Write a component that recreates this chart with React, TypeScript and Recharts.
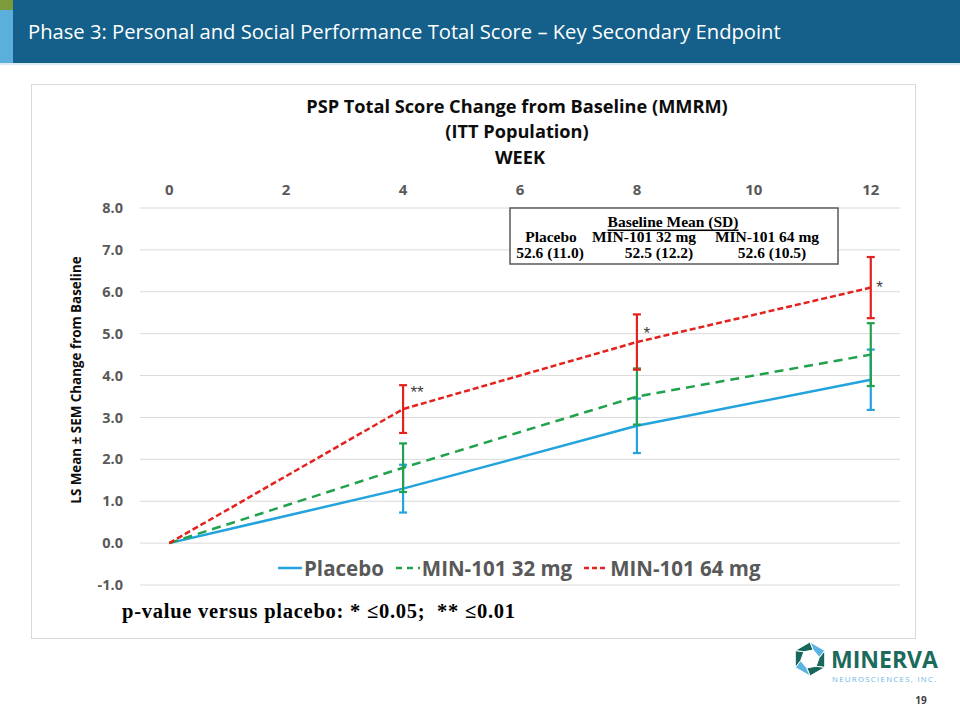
import React from 'react';
import { LineChart, Line, XAxis, YAxis, CartesianGrid, ErrorBar, ReferenceDot } from 'recharts';

// ---- data ----
const weeks = [0, 4, 8, 12];
const placeboMean = [0, 1.3, 2.8, 3.9];
const placeboSem = [0, 0.57, 0.65, 0.72];
const mg32Mean = [0, 1.8, 3.5, 4.5];
const mg32Sem = [0, 0.58, 0.67, 0.75];
const mg64Mean = [0, 3.2, 4.8, 6.1];
const mg64Sem = [0, 0.57, 0.66, 0.73];
const xTicks = [0, 2, 4, 6, 8, 10, 12];
const yTicks = [-1, 0, 1, 2, 3, 4, 5, 6, 7, 8];
const seriesNames = ['Placebo', 'MIN-101 32 mg', 'MIN-101 64 mg'];
const sigWeeks = [4.24, 8.17, 12.15];
const sigLevels = [3.62, 5.02, 6.12];
const sigLabels = ['**', '*', '*'];
const baselineGroups = ['Placebo', 'MIN-101 32 mg', 'MIN-101 64 mg'];
const baselineValues = ['52.6 (11.0)', '52.5 (12.2)', '52.6 (10.5)'];

const COLORS = ['#22A3DC', '#20A14B', '#E3211D'];
const DASHES = [undefined, '9 6', '6 3'];

const data = weeks.map((w, i) => ({
  week: w,
  placebo: placeboMean[i],
  placeboErr: placeboSem[i],
  mg32: mg32Mean[i],
  mg32Err: mg32Sem[i],
  mg64: mg64Mean[i],
  mg64Err: mg64Sem[i],
}));

const keys = ['placebo', 'mg32', 'mg64'];

const tickStyle = { fill: '#595959', fontSize: 14.5, fontWeight: 700, fontFamily: 'Open Sans' };

function LegendSample({ i }: { i: number }) {
  return (
    <svg width={24} height={10} style={{ marginRight: 2 }}>
      <line x1={0} y1={5} x2={24} y2={5} stroke={COLORS[i]} strokeWidth={2.5}
        strokeDasharray={i === 1 ? '6 5' : i === 2 ? '5 3' : undefined} />
    </svg>
  );
}

export default function App() {
  return (
    <div style={{ position: 'absolute', left: 0, top: 0, width: 960, height: 720, background: '#fff', overflow: 'hidden' }}>
      {/* header */}
      <div style={{ position: 'absolute', left: 0, top: 0, width: 960, height: 63, background: '#14608A' }} />
      <div style={{ position: 'absolute', left: 0, top: 0, width: 13, height: 63, background: '#5AB0DA' }} />
      <div style={{ position: 'absolute', left: 0, top: 0, width: 13, height: 10, background: '#7D9B3A' }} />
      <div style={{ position: 'absolute', left: 0, top: 63, width: 960, height: 2, background: '#DCEAF1' }} />
      <div style={{ position: 'absolute', left: 28, top: 17, color: '#fff', fontFamily: 'Open Sans', fontSize: 20.2, whiteSpace: 'nowrap', lineHeight: '28px' }}>
        Phase 3: Personal and Social Performance Total Score – Key Secondary Endpoint
      </div>

      {/* chart box */}
      <div style={{ position: 'absolute', left: 31, top: 84, width: 883, height: 553, border: '1px solid #D9D9D9' }} />

      {/* chart */}
      <div style={{ position: 'absolute', left: 0, top: 0 }}>
        <LineChart width={960} height={720} data={data} margin={{ top: 170, right: 60, bottom: 135, left: 0 }}>
          <CartesianGrid vertical={false} stroke="#D9D9D9" strokeWidth={1} />
          <XAxis dataKey="week" type="number" orientation="top" domain={[-0.5, 12.5]} ticks={xTicks}
            axisLine={false} tickLine={false} height={38} tickMargin={7}
            tick={{ ...tickStyle, fontSize: 15 }} />
          <YAxis type="number" domain={[-1, 8]} ticks={yTicks} width={140} axisLine={false} tickLine={false}
            tickMargin={11} tickFormatter={(v: number) => v.toFixed(1)} tick={tickStyle} />
          {keys.map((k, i) => (
            <Line key={k} dataKey={k} type="linear" stroke={COLORS[i]} strokeWidth={2.5}
              strokeDasharray={DASHES[i]} dot={false} activeDot={false} isAnimationActive={false}>
              <ErrorBar dataKey={k + 'Err'} direction="y" width={4} stroke={COLORS[i]} strokeWidth={2.2} />
            </Line>
          ))}
          {sigWeeks.map((w, i) => (
            <ReferenceDot key={i} x={w} y={sigLevels[i]} r={0} stroke="none" fill="none" ifOverflow="visible"
              label={{ value: sigLabels[i], position: 'center', fill: '#404040', fontSize: 17, fontFamily: 'Liberation Sans' }} />
          ))}
        </LineChart>
      </div>

      {/* overlay texts */}
      <svg width={960} height={720} style={{ position: 'absolute', left: 0, top: 0, pointerEvents: 'none' }}>
        <g fontFamily="Open Sans" fontWeight={700} fill="#0D0D0D" textAnchor="middle">
          <text x={517} y={106} fontSize={18.2} dominantBaseline="central">PSP Total Score Change from Baseline (MMRM)</text>
          <text x={517} y={131} fontSize={18.2} dominantBaseline="central">(ITT Population)</text>
          <text x={520} y={157} fontSize={18.2} dominantBaseline="central">WEEK</text>
        </g>
        <text transform="translate(76,380) rotate(-90)" textAnchor="middle" dominantBaseline="central"
          fontFamily="Open Sans" fontWeight={700} fontSize={13.4} fill="#0D0D0D">
          LS Mean ± SEM Change from Baseline
        </text>

        {/* baseline box */}
        <rect x={510} y={208} width={328} height={56} fill="#fff" stroke="#595959" strokeWidth={1.5} />
        <g fontFamily="Liberation Serif" fontWeight={700} fontSize={15.5} fill="#000" textAnchor="middle" dominantBaseline="central">
          <text x={673} y={221} textDecoration="underline">Baseline Mean (SD)</text>
          {baselineGroups.map((g, i) => (
            <text key={g} x={[551, 644, 767][i]} y={236}>{g}</text>
          ))}
          {baselineValues.map((v, i) => (
            <text key={v + i} x={[550, 659, 772][i]} y={252}>{v}</text>
          ))}
        </g>

        <text x={122} y={611} dominantBaseline="central" fontFamily="Liberation Serif" fontWeight={700} fontSize={20.5} fill="#000"
          textLength={393} lengthAdjust="spacing">
          {'p-value versus placebo: * ≤0.05;\u00A0\u00A0** ≤0.01'}
        </text>

        {/* logo */}
        <g>
          {[0, 1, 2, 3, 4, 5].map((s) => {
            const cx = 810, cy = 659, R = 17, r = 9.5;
            const a0 = (Math.PI / 3) * s - Math.PI / 6;
            const a1 = (Math.PI / 3) * (s + 1) - Math.PI / 6;
            const p = [
              [cx + R * Math.cos(a0), cy + R * Math.sin(a0)],
              [cx + R * Math.cos(a1), cy + R * Math.sin(a1)],
              [cx + r * Math.cos(a1 + 0.35), cy + r * Math.sin(a1 + 0.35)],
              [cx + r * Math.cos(a0 + 0.35), cy + r * Math.sin(a0 + 0.35)],
            ];
            const col = s === 5 || s === 2 ? '#5BB3E2' : '#17675A';
            return <polygon key={s} points={p.map((q) => q.join(',')).join(' ')} fill={col} stroke="#fff" strokeWidth={1} />;
          })}
          <text x={831} y={668} fontFamily="Open Sans" fontWeight={700} fontSize={23} fill="#1B6A5C">MINERVA</text>
          <text x={832} y={682} fontFamily="Open Sans" fontSize={7.8} letterSpacing={1.3} fill="#6CB8E0">NEUROSCIENCES, INC.</text>
          <text x={921} y={700} textAnchor="middle" dominantBaseline="central" fontFamily="Open Sans" fontWeight={700} fontSize={10} fill="#404040">19</text>
        </g>
      </svg>

      {/* legend */}
      <div style={{ position: 'absolute', left: 278, top: 554, height: 28, display: 'flex', alignItems: 'center', fontFamily: 'Open Sans', fontWeight: 700, fontSize: 20.5, color: '#595959', whiteSpace: 'nowrap' }}>
        {seriesNames.map((n, i) => (
          <div key={n} style={{ display: 'flex', alignItems: 'center', marginRight: 12 }}>
            <LegendSample i={i} />
            <span>{n}</span>
          </div>
        ))}
      </div>
    </div>
  );
}
